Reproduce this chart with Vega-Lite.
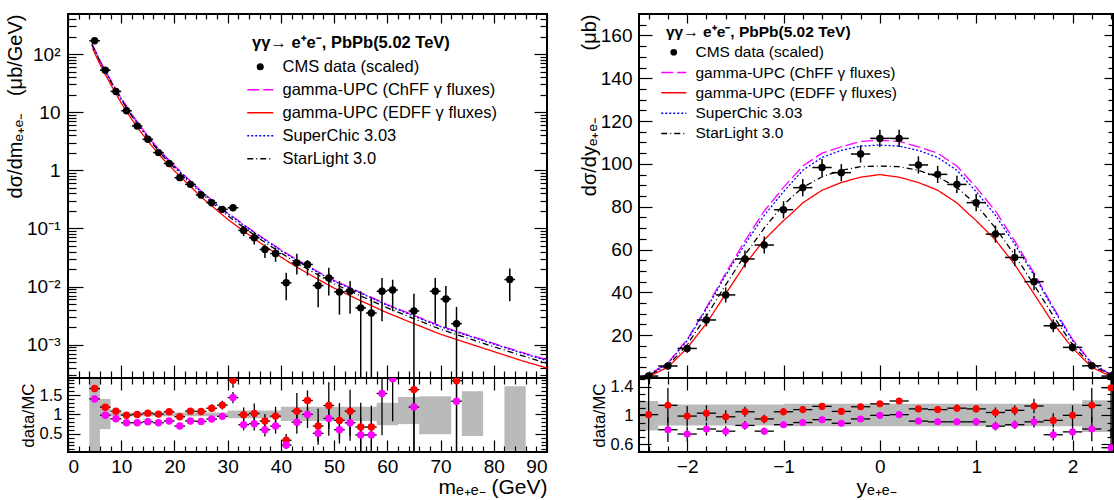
{
"$schema":"https://vega.github.io/schema/vega-lite/v6.json",
"padding":{"left":4,"top":12,"right":0,"bottom":0},
"background":"white",
"config":{
 "font":"Liberation Sans",
 "view":{"stroke":"black","strokeWidth":2},
 "axis":{"grid":false,"domain":false,"tickColor":"black","labelColor":"black","titleColor":"black","titleFontWeight":"normal","tickWidth":1.2,"labelFontSize":19,"titleFontSize":20,"labelFont":"Liberation Sans","titleFont":"Liberation Sans"},
 "legend":{"labelFont":"Liberation Sans","titleFont":"Liberation Sans","labelLimit":0,"titleLimit":0,"symbolStrokeWidth":1.5}
},
"datasets":{
"mc":[
{"m":4.5,"v":150,"s":"ChFF"},{"m":5,"v":122,"s":"ChFF"},{"m":6,"v":78,"s":"ChFF"},{"m":7,"v":52,"s":"ChFF"},{"m":8,"v":36,"s":"ChFF"},{"m":9,"v":25,"s":"ChFF"},{"m":10,"v":17.5,"s":"ChFF"},{"m":11,"v":12.7,"s":"ChFF"},{"m":12,"v":9.2,"s":"ChFF"},{"m":14,"v":5.1,"s":"ChFF"},{"m":16,"v":3.0,"s":"ChFF"},{"m":18,"v":1.85,"s":"ChFF"},{"m":20,"v":1.2,"s":"ChFF"},{"m":22,"v":0.8,"s":"ChFF"},{"m":25,"v":0.44,"s":"ChFF"},{"m":28,"v":0.26,"s":"ChFF"},{"m":30,"v":0.185,"s":"ChFF"},{"m":33,"v":0.117,"s":"ChFF"},{"m":36,"v":0.075,"s":"ChFF"},{"m":40,"v":0.043,"s":"ChFF"},{"m":43,"v":0.029,"s":"ChFF"},{"m":47,"v":0.018,"s":"ChFF"},{"m":50,"v":0.0128,"s":"ChFF"},{"m":55,"v":0.0079,"s":"ChFF"},{"m":60,"v":0.0049,"s":"ChFF"},{"m":65,"v":0.0032,"s":"ChFF"},{"m":70,"v":0.0021,"s":"ChFF"},{"m":75,"v":0.00148,"s":"ChFF"},{"m":80,"v":0.00105,"s":"ChFF"},{"m":85,"v":0.00075,"s":"ChFF"},{"m":90,"v":0.00055,"s":"ChFF"},
{"m":4.5,"v":146,"s":"SC"},{"m":5,"v":119,"s":"SC"},{"m":6,"v":76,"s":"SC"},{"m":7,"v":50.5,"s":"SC"},{"m":8,"v":35,"s":"SC"},{"m":9,"v":24.3,"s":"SC"},{"m":10,"v":17,"s":"SC"},{"m":11,"v":12.3,"s":"SC"},{"m":12,"v":8.9,"s":"SC"},{"m":14,"v":4.95,"s":"SC"},{"m":16,"v":2.91,"s":"SC"},{"m":18,"v":1.8,"s":"SC"},{"m":20,"v":1.16,"s":"SC"},{"m":22,"v":0.776,"s":"SC"},{"m":25,"v":0.427,"s":"SC"},{"m":28,"v":0.252,"s":"SC"},{"m":30,"v":0.18,"s":"SC"},{"m":33,"v":0.114,"s":"SC"},{"m":36,"v":0.073,"s":"SC"},{"m":40,"v":0.0417,"s":"SC"},{"m":43,"v":0.0282,"s":"SC"},{"m":47,"v":0.0175,"s":"SC"},{"m":50,"v":0.0124,"s":"SC"},{"m":55,"v":0.0077,"s":"SC"},{"m":60,"v":0.00476,"s":"SC"},{"m":65,"v":0.0031,"s":"SC"},{"m":70,"v":0.00204,"s":"SC"},{"m":75,"v":0.00144,"s":"SC"},{"m":80,"v":0.00102,"s":"SC"},{"m":85,"v":0.00073,"s":"SC"},{"m":90,"v":0.00053,"s":"SC"},
{"m":4.5,"v":143,"s":"SL"},{"m":5,"v":116,"s":"SL"},{"m":6,"v":74,"s":"SL"},{"m":7,"v":49,"s":"SL"},{"m":8,"v":34,"s":"SL"},{"m":9,"v":23.5,"s":"SL"},{"m":10,"v":16.4,"s":"SL"},{"m":11,"v":11.9,"s":"SL"},{"m":12,"v":8.6,"s":"SL"},{"m":14,"v":4.75,"s":"SL"},{"m":16,"v":2.78,"s":"SL"},{"m":18,"v":1.7,"s":"SL"},{"m":20,"v":1.1,"s":"SL"},{"m":22,"v":0.73,"s":"SL"},{"m":25,"v":0.4,"s":"SL"},{"m":28,"v":0.235,"s":"SL"},{"m":30,"v":0.166,"s":"SL"},{"m":33,"v":0.104,"s":"SL"},{"m":36,"v":0.0665,"s":"SL"},{"m":40,"v":0.038,"s":"SL"},{"m":43,"v":0.0255,"s":"SL"},{"m":47,"v":0.0158,"s":"SL"},{"m":50,"v":0.0112,"s":"SL"},{"m":55,"v":0.0069,"s":"SL"},{"m":60,"v":0.0043,"s":"SL"},{"m":65,"v":0.0028,"s":"SL"},{"m":70,"v":0.00184,"s":"SL"},{"m":75,"v":0.0013,"s":"SL"},{"m":80,"v":0.00092,"s":"SL"},{"m":85,"v":0.00066,"s":"SL"},{"m":90,"v":0.00048,"s":"SL"},
{"m":4.6,"v":125,"s":"EDFF"},{"m":5,"v":105,"s":"EDFF"},{"m":6,"v":67,"s":"EDFF"},{"m":7,"v":44.5,"s":"EDFF"},{"m":8,"v":30.5,"s":"EDFF"},{"m":9,"v":21,"s":"EDFF"},{"m":10,"v":14.4,"s":"EDFF"},{"m":11,"v":10.4,"s":"EDFF"},{"m":12,"v":7.5,"s":"EDFF"},{"m":14,"v":4.18,"s":"EDFF"},{"m":16,"v":2.46,"s":"EDFF"},{"m":18,"v":1.52,"s":"EDFF"},{"m":20,"v":0.98,"s":"EDFF"},{"m":22,"v":0.65,"s":"EDFF"},{"m":25,"v":0.35,"s":"EDFF"},{"m":28,"v":0.205,"s":"EDFF"},{"m":30,"v":0.144,"s":"EDFF"},{"m":33,"v":0.09,"s":"EDFF"},{"m":36,"v":0.0575,"s":"EDFF"},{"m":40,"v":0.0323,"s":"EDFF"},{"m":43,"v":0.0216,"s":"EDFF"},{"m":47,"v":0.0133,"s":"EDFF"},{"m":50,"v":0.0094,"s":"EDFF"},{"m":55,"v":0.0057,"s":"EDFF"},{"m":60,"v":0.00353,"s":"EDFF"},{"m":65,"v":0.0023,"s":"EDFF"},{"m":70,"v":0.00151,"s":"EDFF"},{"m":75,"v":0.00107,"s":"EDFF"},{"m":80,"v":0.00076,"s":"EDFF"},{"m":85,"v":0.00054,"s":"EDFF"},{"m":90,"v":0.000396,"s":"EDFF"}
],
"md":[
{"m":5,"v":170,"lo":163,"hi":177,"xl":4,"xh":6},{"m":7,"v":53,"lo":51,"hi":55,"xl":6,"xh":8},{"m":9,"v":22.8,"lo":21.9,"hi":23.7,"xl":8,"xh":10},{"m":11,"v":10.6,"lo":10.1,"hi":11.1,"xl":10,"xh":12},{"m":13,"v":5.8,"lo":5.5,"hi":6.1,"xl":12,"xh":14},{"m":15,"v":3.42,"lo":3.24,"hi":3.6,"xl":14,"xh":16},{"m":17,"v":2.02,"lo":1.91,"hi":2.13,"xl":16,"xh":18},{"m":19,"v":1.31,"lo":1.23,"hi":1.39,"xl":18,"xh":20},{"m":21,"v":0.748,"lo":0.7,"hi":0.8,"xl":20,"xh":22},{"m":23,"v":0.574,"lo":0.535,"hi":0.615,"xl":22,"xh":24},{"m":25,"v":0.377,"lo":0.35,"hi":0.405,"xl":24,"xh":26},{"m":27,"v":0.277,"lo":0.255,"hi":0.3,"xl":26,"xh":28},{"m":29,"v":0.213,"lo":0.193,"hi":0.235,"xl":28,"xh":30},{"m":31,"v":0.227,"lo":0.205,"hi":0.25,"xl":30,"xh":32},{"m":33,"v":0.0925,"lo":0.074,"hi":0.11,"xl":32,"xh":34},{"m":35,"v":0.069,"lo":0.053,"hi":0.0867,"xl":34,"xh":36},{"m":37,"v":0.0435,"lo":0.031,"hi":0.053,"xl":36,"xh":38},{"m":39,"v":0.037,"lo":0.0267,"hi":0.0465,"xl":38,"xh":40},{"m":41,"v":0.0116,"lo":0.00583,"hi":0.0172,"xl":40,"xh":42},{"m":43,"v":0.0256,"lo":0.0161,"hi":0.0366,"xl":42,"xh":44},{"m":45,"v":0.024,"lo":0.0155,"hi":0.0285,"xl":44,"xh":46},{"m":47,"v":0.0104,"lo":0.00441,"hi":0.0172,"xl":46,"xh":48},{"m":49,"v":0.0141,"lo":0.007,"hi":0.021,"xl":48,"xh":50},{"m":51,"v":0.0081,"lo":0.00329,"hi":0.0124,"xl":50,"xh":52},{"m":53,"v":0.0083,"lo":0.0034,"hi":0.0125,"xl":52,"xh":54},{"m":55,"v":0.0043,"lo":0.0001,"hi":0.0083,"xl":54,"xh":56},{"m":57,"v":0.0035,"lo":0.0001,"hi":0.0064,"xl":56,"xh":58},{"m":59,"v":0.0083,"lo":0.00253,"hi":0.0141,"xl":58,"xh":60},{"m":61,"v":0.0087,"lo":0.00377,"hi":0.0131,"xl":60,"xh":62},{"m":65,"v":0.0038,"lo":0.0001,"hi":0.0075,"xl":64,"xh":66},{"m":69,"v":0.0083,"lo":0.00237,"hi":0.0141,"xl":68,"xh":70},{"m":71,"v":0.0061,"lo":0.00194,"hi":0.0102,"xl":70,"xh":72},{"m":73,"v":0.0023,"lo":0.0001,"hi":0.00446,"xl":72,"xh":74},{"m":83,"v":0.0132,"lo":0.0056,"hi":0.0204,"xl":82,"xh":84}
],
"mr":[
{"m":5,"t":"E","r":1.667,"lo":1.6,"hi":1.73,"xl":4,"xh":6},{"m":7,"t":"E","r":1.187,"lo":1.14,"hi":1.234,"xl":6,"xh":8},{"m":9,"t":"E","r":1.085,"lo":1.042,"hi":1.128,"xl":8,"xh":10},{"m":11,"t":"E","r":0.98,"lo":0.93,"hi":1.03,"xl":10,"xh":12},{"m":13,"t":"E","r":1.0,"lo":0.95,"hi":1.05,"xl":12,"xh":14},{"m":15,"t":"E","r":1.033,"lo":0.98,"hi":1.085,"xl":14,"xh":16},{"m":17,"t":"E","r":1.008,"lo":0.953,"hi":1.063,"xl":16,"xh":18},{"m":19,"t":"E","r":1.067,"lo":1.003,"hi":1.131,"xl":18,"xh":20},{"m":21,"t":"E","r":0.94,"lo":0.879,"hi":1.001,"xl":20,"xh":22},{"m":23,"t":"E","r":1.085,"lo":1.009,"hi":1.161,"xl":22,"xh":24},{"m":25,"t":"E","r":1.077,"lo":1.002,"hi":1.152,"xl":24,"xh":26},{"m":27,"t":"E","r":1.16,"lo":1.067,"hi":1.253,"xl":26,"xh":28},{"m":29,"t":"E","r":1.24,"lo":1.128,"hi":1.352,"xl":28,"xh":30},{"m":31,"t":"E","r":1.88,"lo":1.69,"hi":2.07,"xl":30,"xh":32},{"m":33,"t":"E","r":0.99,"lo":0.79,"hi":1.18,"xl":32,"xh":34},{"m":35,"t":"E","r":1.026,"lo":0.79,"hi":1.28,"xl":34,"xh":36},{"m":37,"t":"E","r":0.83,"lo":0.59,"hi":1.01,"xl":36,"xh":38},{"m":39,"t":"E","r":0.956,"lo":0.69,"hi":1.2,"xl":38,"xh":40},{"m":41,"t":"E","r":0.333,"lo":0.167,"hi":0.493,"xl":40,"xh":42},{"m":43,"t":"E","r":1.085,"lo":0.684,"hi":1.552,"xl":42,"xh":44},{"m":45,"t":"E","r":1.36,"lo":0.884,"hi":1.62,"xl":44,"xh":46},{"m":47,"t":"E","r":0.7,"lo":0.294,"hi":1.155,"xl":46,"xh":48},{"m":49,"t":"E","r":1.23,"lo":0.615,"hi":1.833,"xl":48,"xh":50},{"m":51,"t":"E","r":0.846,"lo":0.347,"hi":1.294,"xl":50,"xh":52},{"m":53,"t":"E","r":1.085,"lo":0.445,"hi":1.638,"xl":52,"xh":54},{"m":55,"t":"E","r":0.674,"lo":0,"hi":1.3,"xl":54,"xh":56},{"m":57,"t":"E","r":0.674,"lo":0,"hi":1.227,"xl":56,"xh":58},{"m":65,"t":"E","r":1.64,"lo":0,"hi":3.23,"xl":64,"xh":66},{"m":73,"t":"E","r":1.87,"lo":0,"hi":3.63,"xl":72,"xh":74},
{"m":5,"t":"C","r":1.4,"lo":1.344,"hi":1.456,"xl":4,"xh":6},{"m":7,"t":"C","r":0.98,"lo":0.94,"hi":1.02,"xl":6,"xh":8},{"m":9,"t":"C","r":0.887,"lo":0.85,"hi":0.92,"xl":8,"xh":10},{"m":11,"t":"C","r":0.785,"lo":0.746,"hi":0.824,"xl":10,"xh":12},{"m":13,"t":"C","r":0.785,"lo":0.746,"hi":0.824,"xl":12,"xh":14},{"m":15,"t":"C","r":0.81,"lo":0.77,"hi":0.85,"xl":14,"xh":16},{"m":17,"t":"C","r":0.785,"lo":0.742,"hi":0.828,"xl":16,"xh":18},{"m":19,"t":"C","r":0.83,"lo":0.78,"hi":0.88,"xl":18,"xh":20},{"m":21,"t":"C","r":0.7,"lo":0.655,"hi":0.745,"xl":20,"xh":22},{"m":23,"t":"C","r":0.83,"lo":0.772,"hi":0.888,"xl":22,"xh":24},{"m":25,"t":"C","r":0.82,"lo":0.763,"hi":0.877,"xl":24,"xh":26},{"m":27,"t":"C","r":0.88,"lo":0.81,"hi":0.95,"xl":26,"xh":28},{"m":29,"t":"C","r":0.95,"lo":0.865,"hi":1.036,"xl":28,"xh":30},{"m":31,"t":"C","r":1.436,"lo":1.29,"hi":1.58,"xl":30,"xh":32},{"m":33,"t":"C","r":0.733,"lo":0.586,"hi":0.872,"xl":32,"xh":34},{"m":35,"t":"C","r":0.76,"lo":0.585,"hi":0.95,"xl":34,"xh":36},{"m":37,"t":"C","r":0.605,"lo":0.43,"hi":0.738,"xl":36,"xh":38},{"m":39,"t":"C","r":0.7,"lo":0.504,"hi":0.882,"xl":38,"xh":40},{"m":41,"t":"C","r":0.21,"lo":0.105,"hi":0.311,"xl":40,"xh":42},{"m":43,"t":"C","r":0.8,"lo":0.504,"hi":1.144,"xl":42,"xh":44},{"m":45,"t":"C","r":1.0,"lo":0.65,"hi":1.19,"xl":44,"xh":46},{"m":47,"t":"C","r":0.513,"lo":0.215,"hi":0.846,"xl":46,"xh":48},{"m":49,"t":"C","r":0.897,"lo":0.449,"hi":1.336,"xl":48,"xh":50},{"m":51,"t":"C","r":0.605,"lo":0.248,"hi":0.926,"xl":50,"xh":52},{"m":53,"t":"C","r":0.785,"lo":0.322,"hi":1.185,"xl":52,"xh":54},{"m":55,"t":"C","r":0.47,"lo":0,"hi":0.907,"xl":54,"xh":56},{"m":57,"t":"C","r":0.47,"lo":0,"hi":0.855,"xl":56,"xh":58},{"m":59,"t":"C","r":1.54,"lo":0.462,"hi":2.62,"xl":58,"xh":60},{"m":61,"t":"C","r":1.92,"lo":0.826,"hi":2.9,"xl":60,"xh":62},{"m":65,"t":"C","r":1.19,"lo":0,"hi":2.34,"xl":64,"xh":66},{"m":73,"t":"C","r":1.34,"lo":0,"hi":2.6,"xl":72,"xh":74}
],
"mb":[
{"a":4,"b":6,"lo":0.03,"hi":1.94},{"a":6,"b":8,"lo":0.62,"hi":1.4},{"a":8,"b":30,"lo":0.95,"hi":1.05},{"a":30,"b":40,"lo":0.9,"hi":1.1},{"a":40,"b":58,"lo":0.83,"hi":1.2},{"a":58,"b":62,"lo":0.72,"hi":1.3},{"a":62,"b":66,"lo":0.75,"hi":1.45},{"a":66,"b":72,"lo":0.49,"hi":1.47},{"a":74,"b":78,"lo":0.44,"hi":1.6},{"a":82,"b":86,"lo":0.06,"hi":1.73}
],
"yc":[
{"y":-2.5,"v":0.4,"s":"ChFF"},{"y":-2.4,"v":1.5,"s":"ChFF"},{"y":-2.2,"v":7,"s":"ChFF"},{"y":-2.0,"v":18,"s":"ChFF"},{"y":-1.8,"v":33,"s":"ChFF"},{"y":-1.6,"v":49,"s":"ChFF"},{"y":-1.4,"v":64,"s":"ChFF"},{"y":-1.2,"v":78,"s":"ChFF"},{"y":-1.0,"v":89,"s":"ChFF"},{"y":-0.8,"v":99,"s":"ChFF"},{"y":-0.6,"v":105,"s":"ChFF"},{"y":-0.4,"v":108,"s":"ChFF"},{"y":-0.2,"v":110.5,"s":"ChFF"},{"y":0,"v":111,"s":"ChFF"},{"y":0.2,"v":110.5,"s":"ChFF"},{"y":0.4,"v":108,"s":"ChFF"},{"y":0.6,"v":105,"s":"ChFF"},{"y":0.8,"v":99,"s":"ChFF"},{"y":1.0,"v":89,"s":"ChFF"},{"y":1.2,"v":78,"s":"ChFF"},{"y":1.4,"v":64,"s":"ChFF"},{"y":1.6,"v":49,"s":"ChFF"},{"y":1.8,"v":33,"s":"ChFF"},{"y":2.0,"v":18,"s":"ChFF"},{"y":2.2,"v":7,"s":"ChFF"},{"y":2.4,"v":1.5,"s":"ChFF"},{"y":2.5,"v":0.4,"s":"ChFF"},
{"y":-2.5,"v":0.4,"s":"SC"},{"y":-2.4,"v":1.5,"s":"SC"},{"y":-2.2,"v":6.8,"s":"SC"},{"y":-2.0,"v":17.5,"s":"SC"},{"y":-1.8,"v":32.3,"s":"SC"},{"y":-1.6,"v":48,"s":"SC"},{"y":-1.4,"v":62.5,"s":"SC"},{"y":-1.2,"v":76,"s":"SC"},{"y":-1.0,"v":87,"s":"SC"},{"y":-0.8,"v":97,"s":"SC"},{"y":-0.6,"v":103,"s":"SC"},{"y":-0.4,"v":106.3,"s":"SC"},{"y":-0.2,"v":108.3,"s":"SC"},{"y":0,"v":108.8,"s":"SC"},{"y":0.2,"v":108.3,"s":"SC"},{"y":0.4,"v":106.3,"s":"SC"},{"y":0.6,"v":103,"s":"SC"},{"y":0.8,"v":97,"s":"SC"},{"y":1.0,"v":87,"s":"SC"},{"y":1.2,"v":76,"s":"SC"},{"y":1.4,"v":62.5,"s":"SC"},{"y":1.6,"v":48,"s":"SC"},{"y":1.8,"v":32.3,"s":"SC"},{"y":2.0,"v":17.5,"s":"SC"},{"y":2.2,"v":6.8,"s":"SC"},{"y":2.4,"v":1.5,"s":"SC"},{"y":2.5,"v":0.4,"s":"SC"},
{"y":-2.5,"v":0.3,"s":"SL"},{"y":-2.4,"v":1.3,"s":"SL"},{"y":-2.2,"v":5.8,"s":"SL"},{"y":-2.0,"v":15.5,"s":"SL"},{"y":-1.8,"v":29,"s":"SL"},{"y":-1.6,"v":43.5,"s":"SL"},{"y":-1.4,"v":57.5,"s":"SL"},{"y":-1.2,"v":70,"s":"SL"},{"y":-1.0,"v":81,"s":"SL"},{"y":-0.8,"v":89,"s":"SL"},{"y":-0.6,"v":94,"s":"SL"},{"y":-0.4,"v":97,"s":"SL"},{"y":-0.2,"v":98.7,"s":"SL"},{"y":0,"v":99,"s":"SL"},{"y":0.2,"v":98.7,"s":"SL"},{"y":0.4,"v":97,"s":"SL"},{"y":0.6,"v":94,"s":"SL"},{"y":0.8,"v":89,"s":"SL"},{"y":1.0,"v":81,"s":"SL"},{"y":1.2,"v":70,"s":"SL"},{"y":1.4,"v":57.5,"s":"SL"},{"y":1.6,"v":43.5,"s":"SL"},{"y":1.8,"v":29,"s":"SL"},{"y":2.0,"v":15.5,"s":"SL"},{"y":2.2,"v":5.8,"s":"SL"},{"y":2.4,"v":1.3,"s":"SL"},{"y":2.5,"v":0.3,"s":"SL"},
{"y":-2.5,"v":0.1,"s":"EDFF"},{"y":-2.4,"v":0.7,"s":"EDFF"},{"y":-2.2,"v":5,"s":"EDFF"},{"y":-2.0,"v":14,"s":"EDFF"},{"y":-1.8,"v":25.5,"s":"EDFF"},{"y":-1.6,"v":39.3,"s":"EDFF"},{"y":-1.4,"v":53,"s":"EDFF"},{"y":-1.2,"v":64.5,"s":"EDFF"},{"y":-1.0,"v":73.5,"s":"EDFF"},{"y":-0.9,"v":77.5,"s":"EDFF"},{"y":-0.8,"v":81.8,"s":"EDFF"},{"y":-0.6,"v":87.7,"s":"EDFF"},{"y":-0.4,"v":91.3,"s":"EDFF"},{"y":-0.2,"v":93.8,"s":"EDFF"},{"y":0,"v":95,"s":"EDFF"},{"y":0.2,"v":93.8,"s":"EDFF"},{"y":0.4,"v":91.3,"s":"EDFF"},{"y":0.6,"v":87.7,"s":"EDFF"},{"y":0.8,"v":81.8,"s":"EDFF"},{"y":0.9,"v":77.5,"s":"EDFF"},{"y":1.0,"v":73.5,"s":"EDFF"},{"y":1.2,"v":64.5,"s":"EDFF"},{"y":1.4,"v":53,"s":"EDFF"},{"y":1.6,"v":39.3,"s":"EDFF"},{"y":1.8,"v":25.5,"s":"EDFF"},{"y":2.0,"v":14,"s":"EDFF"},{"y":2.2,"v":5,"s":"EDFF"},{"y":2.4,"v":0.7,"s":"EDFF"},{"y":2.5,"v":0.1,"s":"EDFF"}
],
"yd":[
{"y":-2.4,"v":0.9,"lo":0.4,"hi":1.5,"xl":-2.5,"xh":-2.3},{"y":-2.2,"v":5.6,"lo":4.4,"hi":6.8,"xl":-2.3,"xh":-2.1},{"y":-2.0,"v":13.8,"lo":11.8,"hi":15.8,"xl":-2.1,"xh":-1.9},{"y":-1.8,"v":27.1,"lo":24.1,"hi":30.1,"xl":-1.9,"xh":-1.7},{"y":-1.6,"v":38.8,"lo":35.3,"hi":42.3,"xl":-1.7,"xh":-1.5},{"y":-1.4,"v":55.6,"lo":51.6,"hi":59.6,"xl":-1.5,"xh":-1.3},{"y":-1.2,"v":62.1,"lo":58.1,"hi":66.1,"xl":-1.3,"xh":-1.1},{"y":-1.0,"v":78.6,"lo":74.6,"hi":82.6,"xl":-1.1,"xh":-0.9},{"y":-0.8,"v":88.9,"lo":84.9,"hi":92.9,"xl":-0.9,"xh":-0.7},{"y":-0.6,"v":98.3,"lo":94.3,"hi":102.3,"xl":-0.7,"xh":-0.5},{"y":-0.4,"v":95.9,"lo":91.9,"hi":99.9,"xl":-0.5,"xh":-0.3},{"y":-0.2,"v":104.6,"lo":100.6,"hi":108.6,"xl":-0.3,"xh":-0.1},{"y":0,"v":111.9,"lo":107.9,"hi":115.9,"xl":-0.1,"xh":0.1},{"y":0.2,"v":111.9,"lo":107.9,"hi":115.9,"xl":0.1,"xh":0.3},{"y":0.4,"v":99.5,"lo":95.5,"hi":103.5,"xl":0.3,"xh":0.5},{"y":0.6,"v":95.1,"lo":91.1,"hi":99.1,"xl":0.5,"xh":0.7},{"y":0.8,"v":90.4,"lo":86.4,"hi":94.4,"xl":0.7,"xh":0.9},{"y":1.0,"v":81.9,"lo":77.9,"hi":85.9,"xl":0.9,"xh":1.1},{"y":1.2,"v":67.2,"lo":63.2,"hi":71.2,"xl":1.1,"xh":1.3},{"y":1.4,"v":56.3,"lo":52.3,"hi":60.3,"xl":1.3,"xh":1.5},{"y":1.6,"v":45,"lo":41,"hi":49,"xl":1.5,"xh":1.7},{"y":1.8,"v":24.4,"lo":21.4,"hi":27.4,"xl":1.7,"xh":1.9},{"y":2.0,"v":14.3,"lo":12.3,"hi":16.3,"xl":1.9,"xh":2.1},{"y":2.2,"v":5.7,"lo":4.5,"hi":6.9,"xl":2.1,"xh":2.3},{"y":2.4,"v":0.9,"lo":0.4,"hi":1.5,"xl":2.3,"xh":2.5}
],
"yr":[
{"y":-2.4,"t":"E","r":1.01,"lo":0.5,"hi":1.52,"xl":-2.5,"xh":-2.3},{"y":-2.2,"t":"E","r":1.14,"lo":0.9,"hi":1.38,"xl":-2.3,"xh":-2.1},{"y":-2.0,"t":"E","r":0.99,"lo":0.85,"hi":1.13,"xl":-2.1,"xh":-1.9},{"y":-1.8,"t":"E","r":1.03,"lo":0.92,"hi":1.14,"xl":-1.9,"xh":-1.7},{"y":-1.6,"t":"E","r":0.98,"lo":0.89,"hi":1.07,"xl":-1.7,"xh":-1.5},{"y":-1.4,"t":"E","r":1.05,"lo":0.98,"hi":1.12,"xl":-1.5,"xh":-1.3},{"y":-1.2,"t":"E","r":0.95,"lo":0.89,"hi":1.01,"xl":-1.3,"xh":-1.1},{"y":-1.0,"t":"E","r":1.05,"lo":1.0,"hi":1.1,"xl":-1.1,"xh":-0.9},{"y":-0.8,"t":"E","r":1.08,"lo":1.03,"hi":1.13,"xl":-0.9,"xh":-0.7},{"y":-0.6,"t":"E","r":1.125,"lo":1.08,"hi":1.17,"xl":-0.7,"xh":-0.5},{"y":-0.4,"t":"E","r":1.055,"lo":1.01,"hi":1.1,"xl":-0.5,"xh":-0.3},{"y":-0.2,"t":"E","r":1.12,"lo":1.08,"hi":1.16,"xl":-0.3,"xh":-0.1},{"y":0,"t":"E","r":1.16,"lo":1.12,"hi":1.2,"xl":-0.1,"xh":0.1},{"y":0.2,"t":"E","r":1.2,"lo":1.16,"hi":1.24,"xl":0.1,"xh":0.3},{"y":0.4,"t":"E","r":1.09,"lo":1.05,"hi":1.13,"xl":0.3,"xh":0.5},{"y":0.6,"t":"E","r":1.08,"lo":1.04,"hi":1.12,"xl":0.5,"xh":0.7},{"y":0.8,"t":"E","r":1.1,"lo":1.05,"hi":1.15,"xl":0.7,"xh":0.9},{"y":1.0,"t":"E","r":1.09,"lo":1.04,"hi":1.14,"xl":0.9,"xh":1.1},{"y":1.2,"t":"E","r":1.04,"lo":0.97,"hi":1.11,"xl":1.1,"xh":1.3},{"y":1.4,"t":"E","r":1.07,"lo":1.0,"hi":1.14,"xl":1.3,"xh":1.5},{"y":1.6,"t":"E","r":1.13,"lo":1.03,"hi":1.23,"xl":1.5,"xh":1.7},{"y":1.8,"t":"E","r":0.93,"lo":0.83,"hi":1.03,"xl":1.7,"xh":1.9},{"y":2.0,"t":"E","r":1.0,"lo":0.86,"hi":1.14,"xl":1.9,"xh":2.1},{"y":2.2,"t":"E","r":1.14,"lo":0.9,"hi":1.38,"xl":2.1,"xh":2.3},{"y":2.4,"t":"E","r":1.385,"lo":0.7,"hi":2.0,"xl":2.3,"xh":2.5},
{"y":-2.2,"t":"C","r":0.8,"lo":0.63,"hi":0.97,"xl":-2.3,"xh":-2.1},{"y":-2.0,"t":"C","r":0.74,"lo":0.64,"hi":0.84,"xl":-2.1,"xh":-1.9},{"y":-1.8,"t":"C","r":0.81,"lo":0.72,"hi":0.9,"xl":-1.9,"xh":-1.7},{"y":-1.6,"t":"C","r":0.78,"lo":0.71,"hi":0.85,"xl":-1.7,"xh":-1.5},{"y":-1.4,"t":"C","r":0.86,"lo":0.8,"hi":0.92,"xl":-1.5,"xh":-1.3},{"y":-1.2,"t":"C","r":0.78,"lo":0.73,"hi":0.83,"xl":-1.3,"xh":-1.1},{"y":-1.0,"t":"C","r":0.87,"lo":0.83,"hi":0.91,"xl":-1.1,"xh":-0.9},{"y":-0.8,"t":"C","r":0.9,"lo":0.86,"hi":0.94,"xl":-0.9,"xh":-0.7},{"y":-0.6,"t":"C","r":0.94,"lo":0.9,"hi":0.98,"xl":-0.7,"xh":-0.5},{"y":-0.4,"t":"C","r":0.89,"lo":0.85,"hi":0.93,"xl":-0.5,"xh":-0.3},{"y":-0.2,"t":"C","r":0.95,"lo":0.91,"hi":0.99,"xl":-0.3,"xh":-0.1},{"y":0,"t":"C","r":1.0,"lo":0.96,"hi":1.04,"xl":-0.1,"xh":0.1},{"y":0.2,"t":"C","r":1.01,"lo":0.97,"hi":1.05,"xl":0.1,"xh":0.3},{"y":0.4,"t":"C","r":0.92,"lo":0.88,"hi":0.96,"xl":0.3,"xh":0.5},{"y":0.6,"t":"C","r":0.91,"lo":0.87,"hi":0.95,"xl":0.5,"xh":0.7},{"y":0.8,"t":"C","r":0.91,"lo":0.87,"hi":0.95,"xl":0.7,"xh":0.9},{"y":1.0,"t":"C","r":0.91,"lo":0.86,"hi":0.96,"xl":0.9,"xh":1.1},{"y":1.2,"t":"C","r":0.85,"lo":0.79,"hi":0.91,"xl":1.1,"xh":1.3},{"y":1.4,"t":"C","r":0.87,"lo":0.81,"hi":0.93,"xl":1.3,"xh":1.5},{"y":1.6,"t":"C","r":0.91,"lo":0.83,"hi":0.99,"xl":1.5,"xh":1.7},{"y":1.8,"t":"C","r":0.73,"lo":0.65,"hi":0.81,"xl":1.7,"xh":1.9},{"y":2.0,"t":"C","r":0.77,"lo":0.66,"hi":0.88,"xl":1.9,"xh":2.1},{"y":2.2,"t":"C","r":0.81,"lo":0.64,"hi":0.98,"xl":2.1,"xh":2.3},{"y":2.4,"t":"C","r":0.55,"lo":0.28,"hi":0.82,"xl":2.3,"xh":2.5}
],
"yb":[
{"a":-2.5,"b":-2.3,"lo":0.79,"hi":1.2},{"a":-2.3,"b":-1.0,"lo":0.86,"hi":1.15},{"a":-1.0,"b":1.0,"lo":0.85,"hi":1.16},{"a":1.0,"b":2.1,"lo":0.85,"hi":1.16},{"a":2.1,"b":2.5,"lo":0.77,"hi":1.21}
]
},
"resolve":{"scale":{"color":"independent","strokeDash":"independent"},"legend":{"color":"independent","strokeDash":"independent"}},
"spacing":29,
"hconcat":[
{"vconcat":[
 {"width":479,"height":364,
  "resolve":{"axis":{"x":"independent","y":"independent"}},
  "layer":[
   {"data":{"name":"mc"},"mark":{"type":"line","strokeWidth":1.3,"clip":true},
    "encoding":{
     "x":{"field":"m","type":"quantitative","scale":{"domain":[0,90],"nice":false,"zero":false},"axis":{"orient":"bottom","values":[0,10,20,30,40,50,60,70,80,90],"labels":false,"tickSize":-13,"title":null}},
     "y":{"field":"v","type":"quantitative","scale":{"type":"log","domain":[0.000267,490],"nice":false},"axis":{"orient":"left","values":[0.001,0.01,0.1,1,10,100],"tickSize":-15,"labelPadding":23,"labelExpr":"datum.value > 50 ? '10²' : datum.value > 5 ? '10' : datum.value > 0.5 ? '1' : datum.value > 0.05 ? '10⁻¹' : datum.value > 0.005 ? '10⁻²' : '10⁻³'","title":"dσ/dmₑ₊ₑ₋\u00a0\u00a0\u00a0(μb/GeV)","titleAnchor":"end","titlePadding":1}},
     "color":{"field":"s","type":"nominal","scale":{"domain":["CMS","ChFF","EDFF","SC","SL"],"range":["black","#ff00ff","#ff0000","#0000ff","black"]},
       "legend":{"orient":"none","legendX":184,"legendY":21,"title":"γγ→ e⁺e⁻, PbPb(5.02 TeV)","titleFontSize":16.5,"titleFontWeight":"bold","labelFontSize":16.5,"symbolSize":676,"symbolType":"stroke","rowPadding":6,"labelOffset":14,"titlePadding":7,
        "labelExpr":"datum.label == 'CMS' ? 'CMS data (scaled)' : datum.label == 'ChFF' ? 'gamma-UPC (ChFF γ fluxes)' : datum.label == 'EDFF' ? 'gamma-UPC (EDFF γ fluxes)' : datum.label == 'SC' ? 'SuperChic 3.03' : 'StarLight 3.0'",
        "encode":{"symbols":{"update":{"shape":{"signal":"datum.value == 'CMS' ? 'circle' : 'stroke'"},"size":{"signal":"datum.value == 'CMS' ? 50 : 676"},"fill":{"signal":"datum.value == 'CMS' ? 'black' : 'transparent'"},"strokeWidth":{"signal":"datum.value == 'CMS' ? 0 : 1.5"}}}}}},
     "strokeDash":{"field":"s","type":"nominal","scale":{"domain":["CMS","ChFF","EDFF","SC","SL"],"range":[[1,0],[12,4],[1,0],[2,2],[6,3,1,3]]},
       "legend":{"orient":"none","legendX":184,"legendY":21,"title":"γγ→ e⁺e⁻, PbPb(5.02 TeV)","titleFontSize":16.5,"titleFontWeight":"bold","labelFontSize":16.5,"symbolSize":676,"symbolType":"stroke","rowPadding":6,"labelOffset":14,"titlePadding":7,
        "labelExpr":"datum.label == 'CMS' ? 'CMS data (scaled)' : datum.label == 'ChFF' ? 'gamma-UPC (ChFF γ fluxes)' : datum.label == 'EDFF' ? 'gamma-UPC (EDFF γ fluxes)' : datum.label == 'SC' ? 'SuperChic 3.03' : 'StarLight 3.0'",
        "encode":{"symbols":{"update":{"shape":{"signal":"datum.value == 'CMS' ? 'circle' : 'stroke'"},"size":{"signal":"datum.value == 'CMS' ? 50 : 676"},"fill":{"signal":"datum.value == 'CMS' ? 'black' : 'transparent'"},"strokeWidth":{"signal":"datum.value == 'CMS' ? 0 : 1.5"}}}}}}
    }},
   {"data":{"name":"md"},"mark":{"type":"rule","color":"black","strokeWidth":1.5,"clip":true},
    "encoding":{
     "x":{"field":"m","type":"quantitative","axis":{"orient":"bottom","values":[2,4,6,8,12,14,16,18,22,24,26,28,32,34,36,38,42,44,46,48,52,54,56,58,62,64,66,68,72,74,76,78,82,84,86,88],"labels":false,"tickSize":-7,"title":null}},
     "y":{"field":"lo","type":"quantitative","axis":{"orient":"left","values":[0.0003,0.0004,0.0005,0.0006,0.0007,0.0008,0.0009,0.002,0.003,0.004,0.005,0.006,0.007,0.008,0.009,0.02,0.03,0.04,0.05,0.06,0.07,0.08,0.09,0.2,0.3,0.4,0.5,0.6,0.7,0.8,0.9,2,3,4,5,6,7,8,9,20,30,40,50,60,70,80,90,200,300,400],"labels":false,"tickSize":-8,"title":null}},
     "y2":{"field":"hi"}
    }},
   {"data":{"name":"md"},"mark":{"type":"rule","color":"black","strokeWidth":1.5,"clip":true},
    "encoding":{
     "x":{"field":"xl","type":"quantitative","axis":{"orient":"top","values":[0,10,20,30,40,50,60,70,80,90],"labels":false,"tickSize":-9,"title":null}},
     "x2":{"field":"xh"},
     "y":{"field":"v","type":"quantitative","axis":{"orient":"right","values":[0.001,0.01,0.1,1,10,100],"labels":false,"tickSize":-13,"title":null}}
    }},
   {"data":{"name":"md"},"mark":{"type":"point","shape":"circle","filled":true,"color":"black","size":55,"opacity":1},
    "encoding":{
     "x":{"field":"m","type":"quantitative","axis":{"orient":"top","values":[2,4,6,8,12,14,16,18,22,24,26,28,32,34,36,38,42,44,46,48,52,54,56,58,62,64,66,68,72,74,76,78,82,84,86,88],"labels":false,"tickSize":-5,"title":null}},
     "y":{"field":"v","type":"quantitative","axis":{"orient":"right","values":[0.0003,0.0004,0.0005,0.0006,0.0007,0.0008,0.0009,0.002,0.003,0.004,0.005,0.006,0.007,0.008,0.009,0.02,0.03,0.04,0.05,0.06,0.07,0.08,0.09,0.2,0.3,0.4,0.5,0.6,0.7,0.8,0.9,2,3,4,5,6,7,8,9,20,30,40,50,60,70,80,90,200,300,400],"labels":false,"tickSize":-7,"title":null}}
    }}
  ]},
 {"width":479,"height":74,
  "resolve":{"axis":{"x":"independent","y":"independent"},"scale":{"color":"independent"}},
  "layer":[
   {"data":{"name":"mb"},"mark":{"type":"rect","fill":"black","fillOpacity":0.27,"clip":true},
    "encoding":{
     "x":{"field":"a","type":"quantitative","scale":{"domain":[0,90],"nice":false,"zero":false},"axis":{"orient":"bottom","values":[0,10,20,30,40,50,60,70,80,90],"tickSize":-12,"labelPadding":17,"title":"mₑ₊ₑ₋ (GeV)","titleFontSize":21,"titleAnchor":"end","titlePadding":0}},
     "x2":{"field":"b"},
     "y":{"field":"lo","type":"quantitative","scale":{"domain":[0.03,1.94],"nice":false,"zero":false},"axis":{"orient":"left","values":[0.5,1,1.5],"format":"~g","tickSize":-12,"labelPadding":18,"labelFontSize":16.5,"title":"data/MC","titleFontSize":17,"titlePadding":2}},
     "y2":{"field":"hi"}
    }},
   {"mark":{"type":"rule","color":"black","strokeWidth":1},"encoding":{"y":{"datum":1,"type":"quantitative","axis":null}}},
   {"data":{"name":"mr"},"mark":{"type":"rule","color":"black","strokeWidth":1.3,"clip":true},
    "encoding":{
     "x":{"field":"m","type":"quantitative","axis":{"orient":"bottom","values":[2,4,6,8,12,14,16,18,22,24,26,28,32,34,36,38,42,44,46,48,52,54,56,58,62,64,66,68,72,74,76,78,82,84,86,88],"labels":false,"tickSize":-6,"title":null}},
     "y":{"field":"lo","type":"quantitative","axis":{"orient":"left","values":[0.1,0.2,0.3,0.4,0.6,0.7,0.8,0.9,1.1,1.2,1.3,1.4,1.6,1.7,1.8,1.9],"labels":false,"tickSize":-6,"title":null}},
     "y2":{"field":"hi"}
    }},
   {"data":{"name":"mr"},"mark":{"type":"rule","color":"black","strokeWidth":1.3,"clip":true},
    "encoding":{
     "x":{"field":"xl","type":"quantitative","axis":{"orient":"top","values":[0,10,20,30,40,50,60,70,80,90],"labels":false,"tickSize":-12,"title":null}},
     "x2":{"field":"xh"},
     "y":{"field":"r","type":"quantitative","axis":{"orient":"right","values":[0.5,1,1.5],"labels":false,"tickSize":-12,"title":null}}
    }},
   {"data":{"name":"mr"},"mark":{"type":"point","shape":"circle","filled":true,"size":55,"opacity":1,"clip":true},
    "encoding":{
     "x":{"field":"m","type":"quantitative","axis":{"orient":"top","values":[2,4,6,8,12,14,16,18,22,24,26,28,32,34,36,38,42,44,46,48,52,54,56,58,62,64,66,68,72,74,76,78,82,84,86,88],"labels":false,"tickSize":-6,"title":null}},
     "y":{"field":"r","type":"quantitative","axis":{"orient":"right","values":[0.1,0.2,0.3,0.4,0.6,0.7,0.8,0.9,1.1,1.2,1.3,1.4,1.6,1.7,1.8,1.9],"labels":false,"tickSize":-6,"title":null}},
     "color":{"field":"t","type":"nominal","scale":{"domain":["E","C"],"range":["#ff0000","#ff00ff"]},"legend":null}
    }}
  ]}
 ],"spacing":0,"bounds":"flush","resolve":{"scale":{"color":"independent","strokeDash":"independent"}}},
{"vconcat":[
 {"width":474,"height":364,
  "resolve":{"axis":{"x":"independent","y":"independent"}},
  "layer":[
   {"data":{"name":"yc"},"mark":{"type":"line","strokeWidth":1.3,"clip":true},
    "encoding":{
     "x":{"field":"y","type":"quantitative","scale":{"domain":[-2.5,2.42],"nice":false,"zero":false},"axis":{"orient":"bottom","values":[-2,-1,0,1,2],"labels":false,"tickSize":-13,"title":null}},
     "y":{"field":"v","type":"quantitative","scale":{"domain":[0,170],"nice":false},"axis":{"orient":"left","values":[20,40,60,80,100,120,140,160],"tickSize":-13,"labelPadding":20,"title":"dσ/dyₑ₊ₑ₋\u00a0\u00a0\u00a0\u00a0\u00a0\u00a0\u00a0\u00a0\u00a0\u00a0\u00a0\u00a0(μb)","titleAnchor":"end","titlePadding":1}},
     "color":{"field":"s","type":"nominal","scale":{"domain":["CMS","ChFF","EDFF","SC","SL"],"range":["black","#ff00ff","#ff0000","#0000ff","black"]},
       "legend":{"orient":"none","legendX":27,"legendY":11,"title":"γγ→ e⁺e⁻, PbPb(5.02 TeV)","titleFontSize":15.5,"titleFontWeight":"bold","labelFontSize":15.5,"symbolSize":625,"symbolType":"stroke","rowPadding":3.3,"labelOffset":14,"titlePadding":4,
        "labelExpr":"datum.label == 'CMS' ? 'CMS data (scaled)' : datum.label == 'ChFF' ? 'gamma-UPC (ChFF γ fluxes)' : datum.label == 'EDFF' ? 'gamma-UPC (EDFF γ fluxes)' : datum.label == 'SC' ? 'SuperChic 3.03' : 'StarLight 3.0'",
        "encode":{"symbols":{"update":{"shape":{"signal":"datum.value == 'CMS' ? 'circle' : 'stroke'"},"size":{"signal":"datum.value == 'CMS' ? 45 : 625"},"fill":{"signal":"datum.value == 'CMS' ? 'black' : 'transparent'"},"strokeWidth":{"signal":"datum.value == 'CMS' ? 0 : 1.5"}}}}}},
     "strokeDash":{"field":"s","type":"nominal","scale":{"domain":["CMS","ChFF","EDFF","SC","SL"],"range":[[1,0],[12,4],[1,0],[2,2],[6,3,1,3]]},
       "legend":{"orient":"none","legendX":27,"legendY":11,"title":"γγ→ e⁺e⁻, PbPb(5.02 TeV)","titleFontSize":15.5,"titleFontWeight":"bold","labelFontSize":15.5,"symbolSize":625,"symbolType":"stroke","rowPadding":3.3,"labelOffset":14,"titlePadding":4,
        "labelExpr":"datum.label == 'CMS' ? 'CMS data (scaled)' : datum.label == 'ChFF' ? 'gamma-UPC (ChFF γ fluxes)' : datum.label == 'EDFF' ? 'gamma-UPC (EDFF γ fluxes)' : datum.label == 'SC' ? 'SuperChic 3.03' : 'StarLight 3.0'",
        "encode":{"symbols":{"update":{"shape":{"signal":"datum.value == 'CMS' ? 'circle' : 'stroke'"},"size":{"signal":"datum.value == 'CMS' ? 45 : 625"},"fill":{"signal":"datum.value == 'CMS' ? 'black' : 'transparent'"},"strokeWidth":{"signal":"datum.value == 'CMS' ? 0 : 1.5"}}}}}}
    }},
   {"data":{"name":"yd"},"mark":{"type":"rule","color":"black","strokeWidth":1.5,"clip":true},
    "encoding":{
     "x":{"field":"y","type":"quantitative","axis":{"orient":"bottom","values":[-2.4,-2.2,-1.8,-1.6,-1.4,-1.2,-0.8,-0.6,-0.4,-0.2,0.2,0.4,0.6,0.8,1.2,1.4,1.6,1.8,2.2,2.4],"labels":false,"tickSize":-7,"title":null}},
     "y":{"field":"lo","type":"quantitative","axis":{"orient":"left","values":[5,10,15,25,30,35,45,50,55,65,70,75,85,90,95,105,110,115,125,130,135,145,150,155,165],"labels":false,"tickSize":-7,"title":null}},
     "y2":{"field":"hi"}
    }},
   {"data":{"name":"yd"},"mark":{"type":"rule","color":"black","strokeWidth":1.5,"clip":true},
    "encoding":{
     "x":{"field":"xl","type":"quantitative","axis":{"orient":"top","values":[-2,-1,0,1,2],"labels":false,"tickSize":-9,"title":null}},
     "x2":{"field":"xh"},
     "y":{"field":"v","type":"quantitative","axis":{"orient":"right","values":[20,40,60,80,100,120,140,160],"labels":false,"tickSize":-9,"title":null}}
    }},
   {"data":{"name":"yd"},"mark":{"type":"point","shape":"circle","filled":true,"color":"black","size":55,"opacity":1},
    "encoding":{
     "x":{"field":"y","type":"quantitative","axis":{"orient":"top","values":[-2.4,-2.2,-1.8,-1.6,-1.4,-1.2,-0.8,-0.6,-0.4,-0.2,0.2,0.4,0.6,0.8,1.2,1.4,1.6,1.8,2.2,2.4],"labels":false,"tickSize":-5,"title":null}},
     "y":{"field":"v","type":"quantitative","axis":{"orient":"right","values":[5,10,15,25,30,35,45,50,55,65,70,75,85,90,95,105,110,115,125,130,135,145,150,155,165],"labels":false,"tickSize":-5,"title":null}}
    }}
  ]},
 {"width":474,"height":74,
  "resolve":{"axis":{"x":"independent","y":"independent"},"scale":{"color":"independent"}},
  "layer":[
   {"data":{"name":"yb"},"mark":{"type":"rect","fill":"black","fillOpacity":0.27,"clip":true},
    "encoding":{
     "x":{"field":"a","type":"quantitative","scale":{"domain":[-2.5,2.42],"nice":false,"zero":false},"axis":{"orient":"bottom","values":[-2,-1,0,1,2],"labelExpr":"datum.value < 0 ? '−' + abs(datum.value) : '' + datum.value","tickSize":-12,"labelPadding":17,"title":"yₑ₊ₑ₋","titleFontSize":21,"titlePadding":0}},
     "x2":{"field":"b"},
     "y":{"field":"lo","type":"quantitative","scale":{"domain":[0.49,1.52],"nice":false,"zero":false},"axis":{"orient":"left","values":[0.6,1,1.4],"format":"~g","tickSize":-12,"labelPadding":18,"labelFontSize":16.5,"title":"data/MC","titleFontSize":17,"titlePadding":2}},
     "y2":{"field":"hi"}
    }},
   {"mark":{"type":"rule","color":"black","strokeWidth":1},"encoding":{"y":{"datum":1,"type":"quantitative","axis":null}}},
   {"data":{"name":"yr"},"mark":{"type":"rule","color":"black","strokeWidth":1.3,"clip":true},
    "encoding":{
     "x":{"field":"y","type":"quantitative","axis":{"orient":"bottom","values":[-2.4,-2.2,-1.8,-1.6,-1.4,-1.2,-0.8,-0.6,-0.4,-0.2,0.2,0.4,0.6,0.8,1.2,1.4,1.6,1.8,2.2,2.4],"labels":false,"tickSize":-6,"title":null}},
     "y":{"field":"lo","type":"quantitative","axis":{"orient":"left","values":[0.5,0.7,0.8,0.9,1.1,1.2,1.3,1.5],"labels":false,"tickSize":-6,"title":null}},
     "y2":{"field":"hi"}
    }},
   {"data":{"name":"yr"},"mark":{"type":"rule","color":"black","strokeWidth":1.3,"clip":true},
    "encoding":{
     "x":{"field":"xl","type":"quantitative","axis":{"orient":"top","values":[-2,-1,0,1,2],"labels":false,"tickSize":-12,"title":null}},
     "x2":{"field":"xh"},
     "y":{"field":"r","type":"quantitative","axis":{"orient":"right","values":[0.6,1,1.4],"labels":false,"tickSize":-12,"title":null}}
    }},
   {"data":{"name":"yr"},"mark":{"type":"point","shape":"circle","filled":true,"size":50,"opacity":1,"clip":true},
    "encoding":{
     "x":{"field":"y","type":"quantitative","axis":{"orient":"top","values":[-2.4,-2.2,-1.8,-1.6,-1.4,-1.2,-0.8,-0.6,-0.4,-0.2,0.2,0.4,0.6,0.8,1.2,1.4,1.6,1.8,2.2,2.4],"labels":false,"tickSize":-6,"title":null}},
     "y":{"field":"r","type":"quantitative","axis":{"orient":"right","values":[0.5,0.7,0.8,0.9,1.1,1.2,1.3,1.5],"labels":false,"tickSize":-6,"title":null}},
     "color":{"field":"t","type":"nominal","scale":{"domain":["E","C"],"range":["#ff0000","#ff00ff"]},"legend":null}
    }}
  ]}
 ],"spacing":0,"bounds":"flush","resolve":{"scale":{"color":"independent","strokeDash":"independent"}}}
]
}
